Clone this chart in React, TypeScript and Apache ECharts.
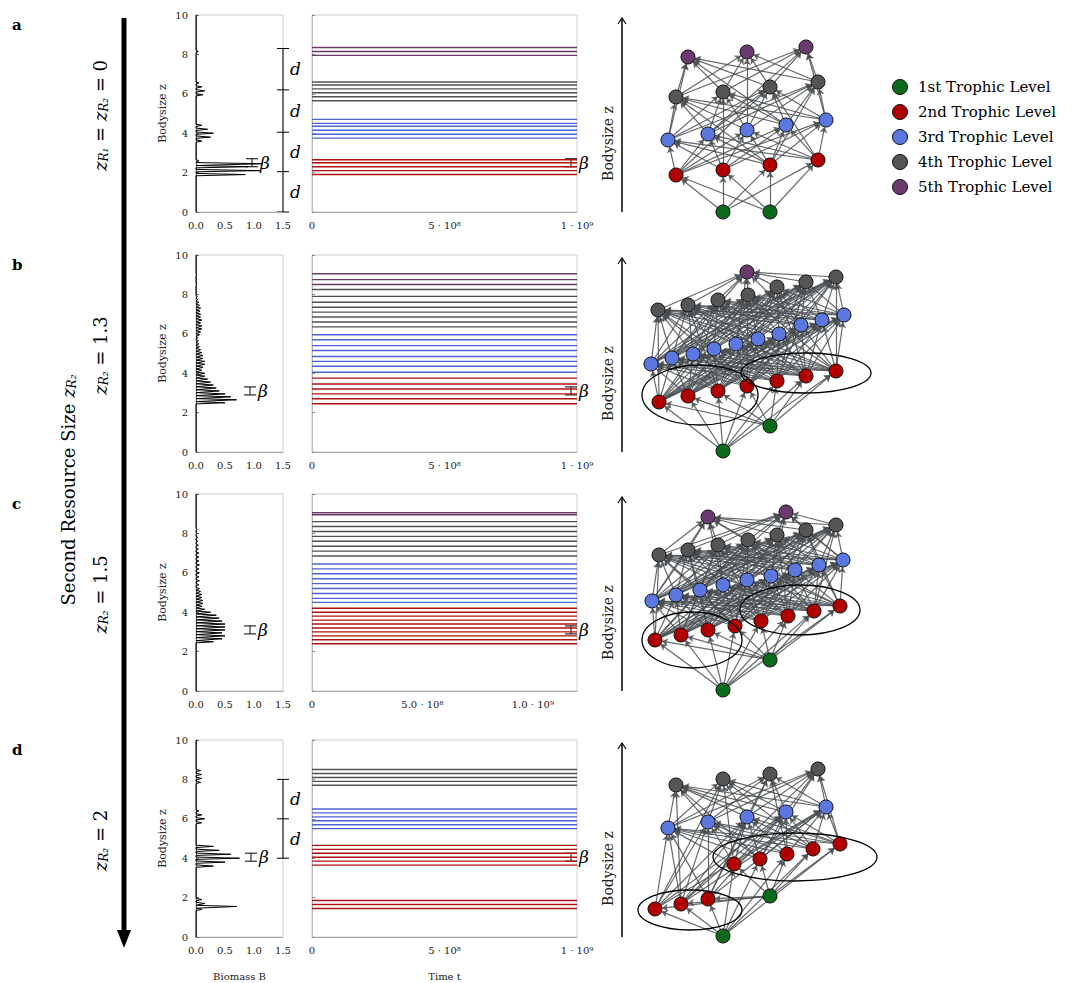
import { useEffect, useRef } from "react";
import * as echarts from "echarts";

const serif = "'DejaVu Serif', 'Liberation Serif', serif";

const rowTops = [15, 255, 494, 740];
const rowH = 197;
const timeMax = [1e9, 1e9, 1.2e9, 1e9];

// biomass profile peaks per row: [bodysize z, biomass B]
const biomassA = [[1.9, 0.85], [2.1, 1.1], [2.3, 0.9], [2.45, 1.15], [2.6, 0.05], [3.6, 0.1], [3.8, 0.25], [4.0, 0.3], [4.2, 0.2], [4.4, 0.1], [5.95, 0.12], [6.15, 0.15], [6.35, 0.1], [6.55, 0.05], [8.15, 0.04]];
const biomassB = [[2.5, 0.5], [2.65, 0.7], [2.8, 0.6], [2.95, 0.5], [3.1, 0.4], [3.25, 0.35], [3.4, 0.3], [3.55, 0.25], [3.7, 0.2], [3.85, 0.15], [4.0, 0.15], [4.15, 0.1], [4.3, 0.12], [4.45, 0.15], [4.6, 0.15], [4.75, 0.12], [4.9, 0.12], [5.05, 0.1], [5.2, 0.08], [5.35, 0.06], [5.5, 0.05], [5.65, 0.04], [5.8, 0.03], [5.95, 0.06], [6.1, 0.08], [6.25, 0.1], [6.4, 0.1], [6.55, 0.08], [6.7, 0.1], [6.85, 0.08], [7.0, 0.08], [7.15, 0.07], [7.3, 0.08], [7.45, 0.06], [7.6, 0.05], [7.75, 0.03], [7.9, 0.02], [8.5, 0.01], [9.0, 0.01]];
const biomassC = [[2.5, 0.3], [2.65, 0.45], [2.8, 0.5], [2.95, 0.45], [3.1, 0.5], [3.25, 0.5], [3.4, 0.5], [3.55, 0.45], [3.7, 0.4], [3.85, 0.35], [4.0, 0.25], [4.15, 0.15], [4.3, 0.1], [4.45, 0.12], [4.6, 0.12], [4.75, 0.1], [4.9, 0.1], [5.05, 0.08], [5.2, 0.06], [5.4, 0.05], [5.6, 0.06], [5.8, 0.05], [6.0, 0.06], [6.2, 0.05], [6.4, 0.06], [6.6, 0.05], [6.8, 0.05], [7.0, 0.05], [7.2, 0.04], [7.4, 0.04], [7.6, 0.03], [7.8, 0.03], [8.0, 0.02], [8.2, 0.02]];
const biomassD = [[1.4, 0.1], [1.55, 0.7], [1.7, 0.15], [1.9, 0.1], [3.6, 0.3], [3.8, 0.5], [4.0, 0.75], [4.2, 0.6], [4.4, 0.4], [4.6, 0.3], [5.8, 0.1], [6.0, 0.15], [6.2, 0.1], [6.4, 0.05], [7.85, 0.08], [8.05, 0.1], [8.25, 0.1], [8.45, 0.08]];
const biomassRows = [biomassA, biomassB, biomassC, biomassD];

// time series levels per row, by trophic level 2..5
const levelsA = [[1.9, 2.1, 2.3, 2.5, 2.65], [3.75, 3.95, 4.15, 4.35, 4.5, 4.7], [5.65, 5.85, 6.05, 6.25, 6.45, 6.6], [7.95, 8.15, 8.35]];
const levelsB = [[2.45, 2.7, 2.95, 3.2, 3.45, 3.75], [4.05, 4.35, 4.6, 4.85, 5.15, 5.4, 5.7, 5.95], [6.35, 6.6, 6.85, 7.1, 7.35, 7.6, 7.9, 8.25], [8.5, 8.75, 9.05]];
const levelsC = [[2.4, 2.6, 2.8, 3.0, 3.2, 3.4, 3.6, 3.8, 4.0, 4.2], [4.5, 4.7, 4.95, 5.2, 5.45, 5.7, 5.95, 6.2, 6.45], [6.85, 7.1, 7.35, 7.6, 7.85, 8.1, 8.35, 8.6], [8.95, 9.05]];
const levelsD = [[1.45, 1.65, 1.85, 3.65, 3.85, 4.05, 4.25, 4.45, 4.65], [5.5, 5.7, 5.9, 6.1, 6.3, 6.5], [7.7, 7.9, 8.1, 8.3, 8.5], []];
const levelRows = [levelsA, levelsB, levelsC, levelsD];
const lineColors = ["#b01010", "#4a62d8", "#505050", "#6b3a6b"];

// network nodes: [x, y, trophic level]
const netA = [[723, 212, 1], [770, 212, 1], [676, 175, 2], [723, 170, 2], [770, 165, 2], [818, 160, 2], [668, 140, 3], [708, 134, 3], [747, 130, 3], [786, 125, 3], [826, 120, 3], [676, 97, 4], [723, 92, 4], [770, 87, 4], [818, 82, 4], [688, 57, 5], [747, 52, 5], [806, 47, 5]];
const netB = [[723, 451, 1], [770, 426, 1], [659, 402, 2], [688, 396, 2], [718, 391, 2], [747, 386, 2], [777, 381, 2], [806, 376, 2], [836, 371, 2], [651, 364, 3], [672, 358, 3], [693, 354, 3], [714, 349, 3], [736, 344, 3], [758, 339, 3], [779, 334, 3], [801, 325, 3], [822, 320, 3], [844, 315, 3], [658, 310, 4], [688, 305, 4], [718, 300, 4], [748, 295, 4], [777, 287, 4], [806, 282, 4], [836, 277, 4], [747, 272, 5]];
const netC = [[723, 690, 1], [770, 660, 1], [655, 640, 2], [681, 635, 2], [708, 630, 2], [735, 626, 2], [761, 621, 2], [788, 616, 2], [814, 611, 2], [840, 606, 2], [652, 601, 3], [676, 595, 3], [700, 590, 3], [723, 585, 3], [747, 580, 3], [771, 576, 3], [795, 570, 3], [819, 565, 3], [843, 560, 3], [659, 555, 4], [688, 550, 4], [718, 545, 4], [748, 540, 4], [777, 535, 4], [806, 530, 4], [836, 525, 4], [708, 517, 5], [786, 512, 5]];
const netD = [[723, 936, 1], [770, 896, 1], [655, 909, 2], [681, 904, 2], [708, 899, 2], [734, 864, 2], [760, 859, 2], [787, 854, 2], [813, 849, 2], [840, 844, 2], [668, 828, 3], [708, 822, 3], [747, 817, 3], [786, 812, 3], [826, 807, 3], [676, 785, 4], [723, 779, 4], [770, 774, 4], [818, 769, 4]];
const netRows = [netA, netB, netC, netD];
const nodeColors = ["#0b6b1a", "#b00000", "#5a78e0", "#555555", "#6b3a6f"];

const legendNames = ["1st Trophic Level", "2nd Trophic Level", "3rd Trophic Level", "4th Trophic Level", "5th Trophic Level"];
// rich text: {i|italic} {s|subscript} {n|normal}
const rowLabels = [
  "{i|z}{s|R₁}{n| = }{i|z}{s|R₂}{n| = 0}",
  "{i|z}{s|R₂}{n| = 1.3}",
  "{i|z}{s|R₂}{n| = 1.5}",
  "{i|z}{s|R₂}{n| = 2}",
];
const ellipses = [[], [[700, 395, 58, 30], [806, 373, 65, 20]], [[692, 640, 50, 28], [800, 610, 60, 25]], [[690, 910, 52, 20], [795, 857, 82, 24]]];

const sup: Record<string, string> = { "8": "⁸", "9": "⁹" };
function timeLabel(v: number, r: number) {
  if (v === 0) return "0";
  const e = Math.floor(Math.log10(v));
  const m = v / Math.pow(10, e);
  const ms = r === 2 ? m.toFixed(1) : String(Math.round(m));
  return ms + " · 10" + sup[String(e)];
}

const richStyle = {
  i: { font: `italic 18px ${serif}`, fill: "#000" },
  s: { font: `italic 12px ${serif}`, fill: "#000", padding: [8, 0, 0, 0] },
  n: { font: `18px ${serif}`, fill: "#000" },
};

export default function App() {
  const ref = useRef<HTMLDivElement | null>(null);

  useEffect(() => {
    if (!ref.current) return;
    document.body.style.margin = "0";
    const chart = echarts.init(ref.current, null, { renderer: "svg" });

    const grids: any[] = [];
    const xAxes: any[] = [];
    const yAxes: any[] = [];
    const series: any[] = [];
    const graphic: any[] = [];
    const tickFont = { fontFamily: serif, fontSize: 10, color: "#222" };

    rowTops.forEach((top, r) => {
      const gb = grids.length;
      grids.push({ left: 196, top, width: 87, height: rowH, show: true, borderColor: "#ccc", borderWidth: 1 });
      grids.push({ left: 312, top, width: 265, height: rowH, show: true, borderColor: "#ccc", borderWidth: 1 });
      xAxes.push({
        gridIndex: gb, type: "value", min: 0, max: 1.5, interval: 0.5,
        axisLine: { lineStyle: { color: "#aaa" } }, splitLine: { show: false },
        axisTick: { show: false }, axisLabel: { ...tickFont, formatter: (v: number) => v.toFixed(1) },
        name: r === 3 ? "Biomass B" : "", nameLocation: "middle", nameGap: 34,
        nameTextStyle: { fontFamily: serif, fontSize: 10, color: "#222" },
      });
      yAxes.push({
        gridIndex: gb, type: "value", min: 0, max: 10, interval: 2,
        axisLine: { show: true, lineStyle: { color: "#666" } }, splitLine: { show: false },
        axisTick: { show: true, length: 3, inside: true }, axisLabel: tickFont,
        name: "Bodysize z", nameLocation: "middle", nameGap: 28,
        nameTextStyle: { fontFamily: serif, fontSize: 11, color: "#222" },
      });
      xAxes.push({
        gridIndex: gb + 1, type: "value", min: 0, max: timeMax[r], interval: 5e8,
        axisLine: { lineStyle: { color: "#aaa" } }, splitLine: { show: false },
        axisTick: { show: false },
        axisLabel: { ...tickFont, showMaxLabel: r !== 2, formatter: (v: number) => (v > 1e9 ? "" : timeLabel(v, r)) },
        name: r === 3 ? "Time t" : "", nameLocation: "middle", nameGap: 34,
        nameTextStyle: { fontFamily: serif, fontSize: 10, color: "#222" },
      });
      yAxes.push({
        gridIndex: gb + 1, type: "value", min: 0, max: 10, interval: 2,
        axisLine: { show: true, lineStyle: { color: "#bbb" } }, splitLine: { show: false },
        axisTick: { show: true, length: 3, inside: true, lineStyle: { color: "#888" } }, axisLabel: { show: false },
      });

      const pts: number[][] = [[0, 0]];
      biomassRows[r].forEach(([z, b]) => {
        pts.push([0, z - 0.06], [b, z], [0, z + 0.06]);
      });
      pts.push([0, 10]);
      series.push({
        type: "line", xAxisIndex: gb, yAxisIndex: gb, data: pts, showSymbol: false,
        lineStyle: { color: "#000", width: 1 }, silent: true,
      });

      levelRows[r].forEach((zs, li) => {
        zs.forEach((z) => {
          series.push({
            type: "line", xAxisIndex: gb + 1, yAxisIndex: gb + 1, showSymbol: false, silent: true,
            data: [[0, z], [timeMax[r], z]], lineStyle: { color: lineColors[li], width: 1.4 },
          });
        });
      });

      // labels
      graphic.push({ type: "text", left: 12, top: top + 2, style: { text: "abcd"[r], font: `bold 15px ${serif}`, fill: "#000" } });
      graphic.push({
        type: "text", x: 100, y: top + rowH / 2 + 2, rotation: Math.PI / 2,
        style: { text: rowLabels[r], rich: richStyle, align: "center", verticalAlign: "middle" },
      });
      // bodysize arrow for network
      const bottom = top + rowH;
      graphic.push({ type: "line", shape: { x1: 622, y1: bottom, x2: 622, y2: top + 3 }, style: { stroke: "#000", lineWidth: 1.5 } });
      graphic.push({ type: "polyline", shape: { points: [[618, top + 9], [622, top + 3], [626, top + 9]] }, style: { stroke: "#000", lineWidth: 1.2, fill: "none" } });
      graphic.push({
        type: "text", x: 608, y: top + rowH / 2 + 30, rotation: Math.PI / 2,
        style: { text: "Bodysize z", font: `14px ${serif}`, fill: "#222", align: "center", verticalAlign: "middle" },
      });
      ellipses[r].forEach(([cx, cy, rx, ry]) => {
        graphic.push({ type: "ellipse", z: 10, shape: { cx, cy, rx, ry }, style: { fill: "none", stroke: "#000", lineWidth: 1.3 } });
      });
    });

    // network grid covering the whole canvas
    const gn = grids.length;
    grids.push({ left: 0, top: 0, width: 1087, height: 983 });
    xAxes.push({ gridIndex: gn, type: "value", min: 0, max: 1087, show: false });
    yAxes.push({ gridIndex: gn, type: "value", min: 0, max: 983, inverse: true, show: false });

    netRows.forEach((nodes) => {
      const links: any[] = [];
      nodes.forEach((n, i) => {
        nodes.forEach((m, j) => {
          if (m[2] === n[2] + 1 || (m[2] === n[2] + 2 && n[2] > 1 && (i + j) % 3 === 0)) {
            links.push({ source: i, target: j });
          }
        });
      });
      series.push({
        type: "graph", coordinateSystem: "cartesian2d", xAxisIndex: gn, yAxisIndex: gn, silent: true,
        symbolSize: 14, edgeSymbol: ["none", "arrow"], edgeSymbolSize: 6,
        data: nodes.map((n) => ({ value: [n[0], n[1]], itemStyle: { color: nodeColors[n[2] - 1], borderColor: "#111", borderWidth: 1 } })),
        links, lineStyle: { color: "#4a4f52", width: 1.2, opacity: 0.85 }, z: 3,
      });
    });

    // big left arrow
    graphic.push({ type: "line", shape: { x1: 124, y1: 18, x2: 124, y2: 935 }, style: { stroke: "#000", lineWidth: 5 } });
    graphic.push({ type: "polygon", shape: { points: [[117, 930], [131, 930], [124, 948]] }, style: { fill: "#000" } });
    graphic.push({
      type: "text", x: 68, y: 490, rotation: Math.PI / 2,
      style: {
        text: "{n|Second Resource Size }{i|z}{s|R₂}", align: "center", verticalAlign: "middle",
        rich: richStyle,
      },
    });

    // beta markers and d braces
    const yOf = (r: number, z: number) => rowTops[r] + rowH * (1 - z / 10);
    const betaB = [[2.5, 252], [3.1, 250], [3.1, 250], [4.05, 251]];
    betaB.forEach(([z, x], r) => {
      [x, 571].forEach((bx) => {
        const y = yOf(r, z);
        graphic.push({ type: "polyline", shape: { points: [[bx - 6, y - 4], [bx + 6, y - 4]] }, style: { stroke: "#000" } });
        graphic.push({ type: "polyline", shape: { points: [[bx - 6, y + 4], [bx + 6, y + 4]] }, style: { stroke: "#000" } });
        graphic.push({ type: "line", shape: { x1: bx, y1: y - 4, x2: bx, y2: y + 4 }, style: { stroke: "#000" } });
        graphic.push({ type: "text", x: bx + 8, y, style: { text: "β", font: `italic 17px ${serif}`, fill: "#000", verticalAlign: "middle" } });
      });
    });
    const dMarks = [[0, [0, 2.05, 4.05, 6.2, 8.3]], [3, [4.0, 6.0, 8.0]]] as [number, number[]][];
    dMarks.forEach(([r, zs]) => {
      const y0 = yOf(r, zs[zs.length - 1]);
      const y1 = yOf(r, zs[0]);
      graphic.push({ type: "line", shape: { x1: 283, y1: y0, x2: 283, y2: y1 }, style: { stroke: "#000" } });
      zs.forEach((z, i) => {
        const y = yOf(r, z);
        graphic.push({ type: "line", shape: { x1: 277, y1: y, x2: 289, y2: y }, style: { stroke: "#000" } });
        if (i > 0) {
          graphic.push({ type: "text", x: 290, y: (y + yOf(r, zs[i - 1])) / 2, style: { text: "d", font: `italic 17px ${serif}`, fill: "#000", verticalAlign: "middle" } });
        }
      });
    });

    // legend
    legendNames.forEach((name, i) => {
      const y = 87 + i * 25;
      graphic.push({ type: "circle", shape: { cx: 900, cy: y, r: 7.5 }, style: { fill: nodeColors[i], stroke: "#111", lineWidth: 1 } });
      graphic.push({ type: "text", x: 918, y, style: { text: name, font: `15px ${serif}`, fill: "#000", verticalAlign: "middle" } });
    });

    chart.setOption({
      animation: false,
      backgroundColor: "#fff",
      grid: grids,
      xAxis: xAxes,
      yAxis: yAxes,
      series,
      graphic,
    });

    return () => chart.dispose();
  }, []);

  return <div ref={ref} style={{ width: 1087, height: 983 }} />;
}
